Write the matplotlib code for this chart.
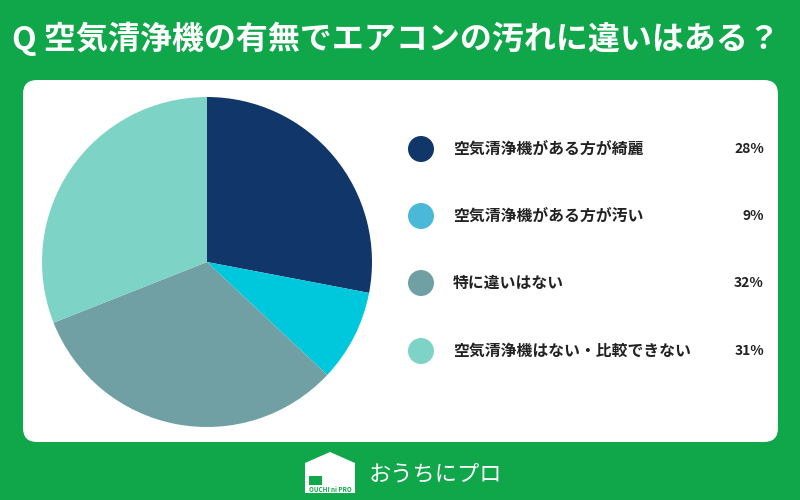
import numpy as np
import matplotlib.pyplot as plt
from matplotlib.patches import FancyBboxPatch, Polygon, Circle, Rectangle, Wedge

plt.rcParams['font.family'] = ['Noto Sans CJK JP', 'DejaVu Sans']

title = "Q 空気清浄機の有無でエアコンの汚れに違いはある？"
labels = ["空気清浄機がある方が綺麗", "空気清浄機がある方が汚い", "特に違いはない", "空気清浄機はない・比較できない"]
values = [28, 9, 32, 31]
pie_colors = ["#11366a", "#00c8dc", "#70a0a3", "#7dd3c5"]
dot_colors = ["#11366a", "#4ab8d8", "#70a0a3", "#7dd3c5"]
green = "#10a64a"

fig = plt.figure(figsize=(8, 5), dpi=100)
fig.patch.set_facecolor(green)

# background canvas in pixel units
bg = fig.add_axes([0, 0, 1, 1])
bg.set_xlim(0, 800)
bg.set_ylim(500, 0)
bg.axis('off')

bg.text(396, 39, title, color='white', fontsize=23, fontweight='bold', ha='center', va='center')

panel = FancyBboxPatch((35, 92), 731, 338, boxstyle="round,pad=12,rounding_size=14",
                       fc='white', ec='none')
bg.add_patch(panel)

# legend
ys = [149, 216, 283, 351]
for y, lab, val, c in zip(ys, labels, values, dot_colors):
    bg.add_patch(Circle((421, y), 13, fc=c, ec='none'))
    bg.text(453, y, lab, fontsize=11.4, fontweight='bold', color='#222222', ha='left', va='center')
    bg.text(764, y, f"{val}%", fontsize=10, fontweight='bold', color='#222222', ha='right', va='center')

# logo
bg.add_patch(Polygon([(305, 463), (330, 452), (355, 463), (355, 493), (305, 493)],
                     closed=True, fc='white', ec='none'))
bg.add_patch(Rectangle((309, 476), 13, 9, fc=green, ec='none'))
bg.add_patch(Wedge((315.5, 476), 6.5, 0, 180, fc=green, ec='none'))
bg.text(330, 489, "OUCHI ni PRO", fontsize=4.5, color=green, ha='center', va='center', fontweight='bold')
bg.text(369, 474, "おうちにプロ", fontsize=16, color='white', ha='left', va='center')

# pie
pax = fig.add_axes([42 / 800, (500 - 427) / 500, 330 / 800, 330 / 500])
pax.pie(values, colors=pie_colors, startangle=90, counterclock=False,
        wedgeprops=dict(linewidth=0))
pax.set_xlim(-1, 1)
pax.set_ylim(-1, 1)
pax.set_aspect('equal')

fig.savefig("out.png", dpi=100, facecolor=green)
